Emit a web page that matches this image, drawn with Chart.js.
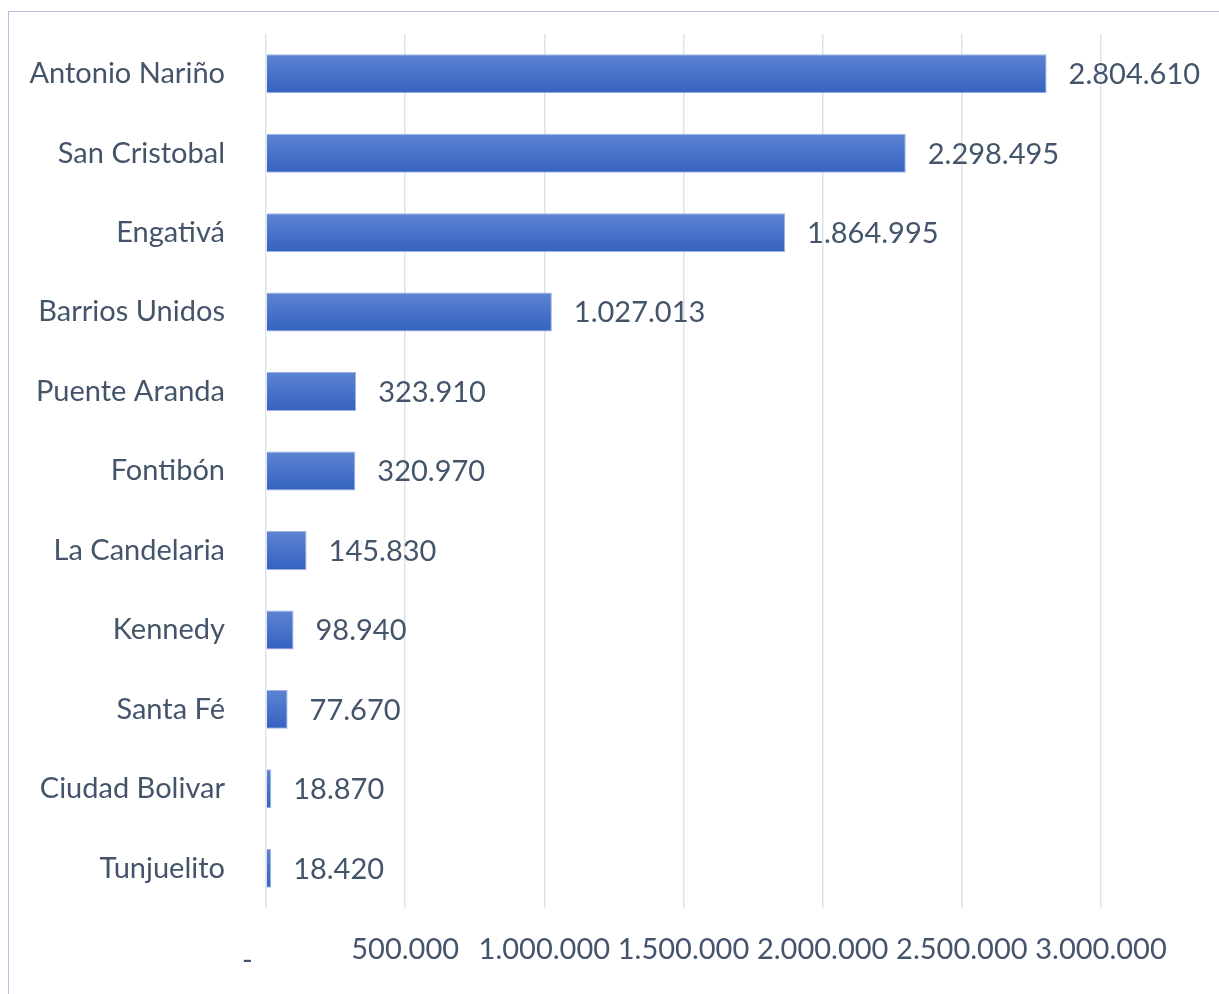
<!DOCTYPE html>
<html>
<head>
<meta charset="utf-8">
<script src="https://cdn.jsdelivr.net/npm/chart.js@4.4.1/dist/chart.umd.min.js"></script>
<style>
  html, body { margin: 0; padding: 0; background: #fff; }
  #wrap { position: absolute; left: 0; top: 0; width: 1219px; height: 994px; }
  #frame { position: absolute; left: 8px; top: 11px; width: 1230px; height: 1000px;
           border-left: 1.5px solid #b3bfe3; border-top: 1.5px solid #b3bfe3; pointer-events: none; }
</style>
</head>
<body>
<div id="wrap"><canvas id="zonasChart"></canvas></div>
<div id="frame"></div>
<script>
// Localidades y valores
const localidades = ['Antonio Nariño', 'San Cristobal', 'Engativá', 'Barrios Unidos', 'Puente Aranda',
    'Fontibón', 'La Candelaria', 'Kennedy', 'Santa Fé', 'Ciudad Bolivar', 'Tunjuelito'];
const valores = [2804610, 2298495, 1864995, 1027013, 323910, 320970, 145830, 98940, 77670, 18870, 18420];
const ejeMin = 0;
const ejeMax = 3000000;
const ejePaso = 500000;

const textColor = '#44546a';
const fontFam = 'Lato, "Open Sans", sans-serif';
const fontSize = 29;

function miles(v) {
    return String(Math.round(v)).replace(/\B(?=(\d{3})+(?!\d))/g, '.');
}

const barPct = 0.49;

function barGradient(ctx) {
    const chart = ctx.chart;
    const ys = chart.scales.y;
    if (!ys || ctx.dataIndex === undefined) return '#4472c4';
    const c = ys.getPixelForValue(ctx.dataIndex);
    const half = (ys.height / localidades.length) * barPct / 2;
    if (!isFinite(c) || !isFinite(half) || half <= 0) return '#4472c4';
    const g = chart.ctx.createLinearGradient(0, c - half, 0, c + half);
    g.addColorStop(0, '#5d84d2');
    g.addColorStop(1, '#3462c0');
    return g;
}

// etiquetas de valor a la derecha de cada barra
const valueLabels = {
    id: 'valueLabels',
    afterDatasetsDraw(chart) {
        const ctx = chart.ctx;
        const meta = chart.getDatasetMeta(0);
        ctx.save();
        ctx.font = fontSize + 'px ' + fontFam;
        ctx.fillStyle = textColor;
        ctx.textBaseline = 'middle';
        ctx.textAlign = 'left';
        meta.data.forEach((bar, i) => {
            ctx.fillText(miles(valores[i]), bar.x + 22, bar.y + 1);
        });
        ctx.restore();
    }
};

function initializeZonasChart() {
    const ctx = document.getElementById('zonasChart').getContext('2d');

    new Chart(ctx, {
        type: 'bar',
        data: {
            labels: localidades,
            datasets: [{
                data: valores,
                backgroundColor: barGradient,
                borderColor: '#9fb3e3',
                borderWidth: 1,
                categoryPercentage: 1,
                barPercentage: barPct
            }]
        },
        options: {
            indexAxis: 'y',
            responsive: true,
            maintainAspectRatio: false,
            animation: false,
            layout: {
                padding: { top: 34, right: 118, bottom: 0, left: 0 }
            },
            plugins: {
                legend: { display: false },
                tooltip: { enabled: false }
            },
            scales: {
                x: {
                    min: ejeMin,
                    max: ejeMax,
                    border: { display: false },
                    grid: {
                        color: '#dde1ea',
                        lineWidth: 1.5,
                        drawTicks: false
                    },
                    ticks: {
                        stepSize: ejePaso,
                        color: textColor,
                        padding: 24,
                        maxRotation: 0,
                        font: c => ({
                            size: fontSize,
                            family: fontFam,
                            lineHeight: (c.tick && c.tick.value === 0) ? 2.0 : 1.2
                        }),
                        callback: v => v === 0 ? '-     ' : miles(v)
                    },
                    afterFit: s => { s.height = 86; s.paddingLeft = 0; s.paddingRight = 0; }
                },
                y: {
                    border: { display: false },
                    grid: { display: false },
                    ticks: {
                        color: textColor,
                        padding: 33,
                        font: { size: fontSize, family: fontFam }
                    },
                    afterFit: s => { s.width = 266; s.paddingTop = 0; s.paddingBottom = 0; }
                }
            }
        },
        plugins: [valueLabels]
    });
}
initializeZonasChart();
</script>
</body>
</html>
